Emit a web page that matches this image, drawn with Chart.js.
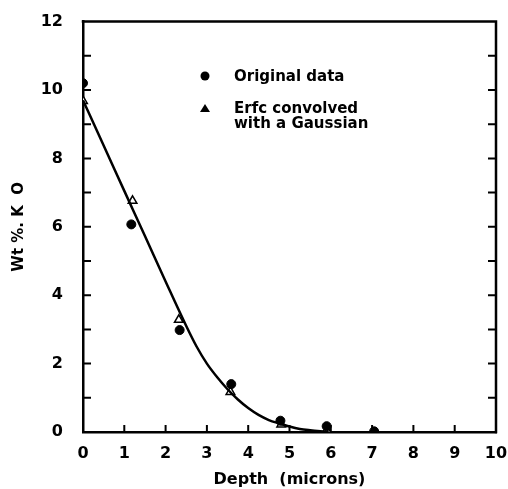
<!DOCTYPE html>
<html>
<head>
<meta charset="utf-8">
<script src="https://cdn.jsdelivr.net/npm/chart.js@4"></script>
<style>
  html, body { margin: 0; padding: 0; background: #fff; }
  #wrap { width: 508px; height: 489px; }
</style>
</head>
<body>
<div id="wrap"><canvas id="myChart"></canvas></div>
<script>
// measured K2O profile (circles)
var depthMeasured = [0.0, 1.17, 2.34, 3.59, 4.78, 5.9, 7.05];
var wtMeasured = [10.2, 6.07, 2.98, 1.4, 0.33, 0.17, 0.02];

// erfc convolved with a gaussian (triangles)
var depthModel = [0.0, 1.2, 2.32, 3.57, 4.8, 5.9];
var wtModel = [9.68, 6.76, 3.28, 1.17, 0.22, 0.05];

// fitted curve
var curveX = [0, 0.5, 1, 1.5, 2, 2.5, 2.75, 3, 3.25, 3.5, 3.75, 4, 4.25, 4.5, 4.75, 5, 5.25, 5.5, 5.75, 5.95];
var curveY = [9.7, 8.38, 7.05, 5.73, 4.4, 3.1, 2.5, 2.0, 1.6, 1.25, 0.95, 0.7, 0.5, 0.35, 0.25, 0.16, 0.09, 0.05, 0.02, 0.0];

var legendLabels = ['Original data', 'Erfc convolved', 'with a Gaussian'];

var FONT = '"DejaVu Sans", sans-serif';

function toPoints(xs, ys) {
    var pts = [];
    for (var i = 0; i < xs.length; i++) pts.push({ x: xs[i], y: ys[i] });
    return pts;
}

// box frame, inward ticks and the legend
var framePlugin = {
    id: 'frame',
    afterDraw: function (chart) {
        var ctx = chart.ctx;
        var a = chart.chartArea;
        var xs = chart.scales.x, ys = chart.scales.y;
        ctx.save();
        ctx.strokeStyle = '#000';
        ctx.lineWidth = 2.5;
        ctx.lineCap = 'square';
        ctx.beginPath();
        ctx.moveTo(a.left, a.top);
        ctx.lineTo(a.right, a.top);
        ctx.lineTo(a.right, a.bottom);
        ctx.stroke();

        ctx.lineWidth = 2;
        ctx.lineCap = 'butt';
        ctx.beginPath();
        for (var v = 1; v < 12; v++) {
            var py = ys.getPixelForValue(v);
            ctx.moveTo(a.left, py); ctx.lineTo(a.left + 8, py);
            ctx.moveTo(a.right, py); ctx.lineTo(a.right - 8, py);
        }
        for (var u = 1; u < 10; u++) {
            var px = xs.getPixelForValue(u);
            ctx.moveTo(px, a.bottom); ctx.lineTo(px, a.bottom - 7);
        }
        ctx.stroke();

        // legend
        ctx.fillStyle = '#000';
        ctx.beginPath();
        ctx.arc(205, 76, 4.5, 0, Math.PI * 2);
        ctx.fill();
        ctx.beginPath();
        ctx.moveTo(205, 104);
        ctx.lineTo(210, 112);
        ctx.lineTo(200, 112);
        ctx.closePath();
        ctx.fill();
        ctx.font = 'bold 15px ' + FONT;
        ctx.textBaseline = 'middle';
        ctx.fillText(legendLabels[0], 234, 77);
        ctx.fillText(legendLabels[1], 234, 109);
        ctx.fillText(legendLabels[2], 234, 124);
        ctx.restore();
    }
};

var ctx = document.getElementById('myChart').getContext('2d');
var myChart = new Chart(ctx, {
    type: 'scatter',
    data: {
        datasets: [{
            type: 'line',
            label: 'fit',
            data: toPoints(curveX, curveY),
            borderColor: '#000',
            borderWidth: 2.5,
            pointRadius: 0,
            fill: false,
            cubicInterpolationMode: 'monotone'
        }, {
            label: legendLabels[0],
            data: toPoints(depthMeasured, wtMeasured),
            pointStyle: 'circle',
            pointRadius: 4.5,
            backgroundColor: '#000',
            borderColor: '#000',
            borderWidth: 1
        }, {
            label: 'Erfc convolved with a Gaussian',
            data: toPoints(depthModel, wtModel),
            pointStyle: 'triangle',
            pointRadius: 5,
            backgroundColor: '#fff',
            borderColor: '#000',
            borderWidth: 1.5
        }]
    },
    plugins: [framePlugin],
    options: {
        responsive: true,
        maintainAspectRatio: false,
        animation: false,
        layout: { padding: { top: 20, right: 12, left: 0, bottom: 0 } },
        plugins: {
            legend: { display: false },
            tooltip: { enabled: false }
        },
        scales: {
            x: {
                type: 'linear',
                min: 0,
                max: 10,
                grid: { display: false },
                border: { display: true, color: '#000', width: 2.5 },
                ticks: {
                    stepSize: 1,
                    color: '#000',
                    padding: 4,
                    font: { family: FONT, size: 16, weight: 'bold' }
                },
                title: {
                    display: true,
                    text: 'Depth  (microns)',
                    color: '#000',
                    padding: { top: 2, bottom: 0 },
                    font: { family: FONT, size: 16, weight: 'bold' }
                },
                afterFit: function (scale) {
                    scale.height = 57;
                    // let the "10" label hang past the frame
                    scale.paddingRight = 0;
                    scale.paddingLeft = 0;
                }
            },
            y: {
                min: 0,
                max: 12,
                grid: { display: false },
                border: { display: true, color: '#000', width: 2.5 },
                ticks: {
                    stepSize: 2,
                    color: '#000',
                    padding: 12,
                    font: { family: FONT, size: 16, weight: 'bold' }
                },
                title: {
                    display: true,
                    text: 'Wt %. K  O',
                    color: '#000',
                    padding: { top: 10, bottom: 0 },
                    font: { family: FONT, size: 15, weight: 'bold' }
                },
                afterFit: function (scale) { scale.width = 83; }
            }
        }
    }
});
</script>
</body>
</html>
